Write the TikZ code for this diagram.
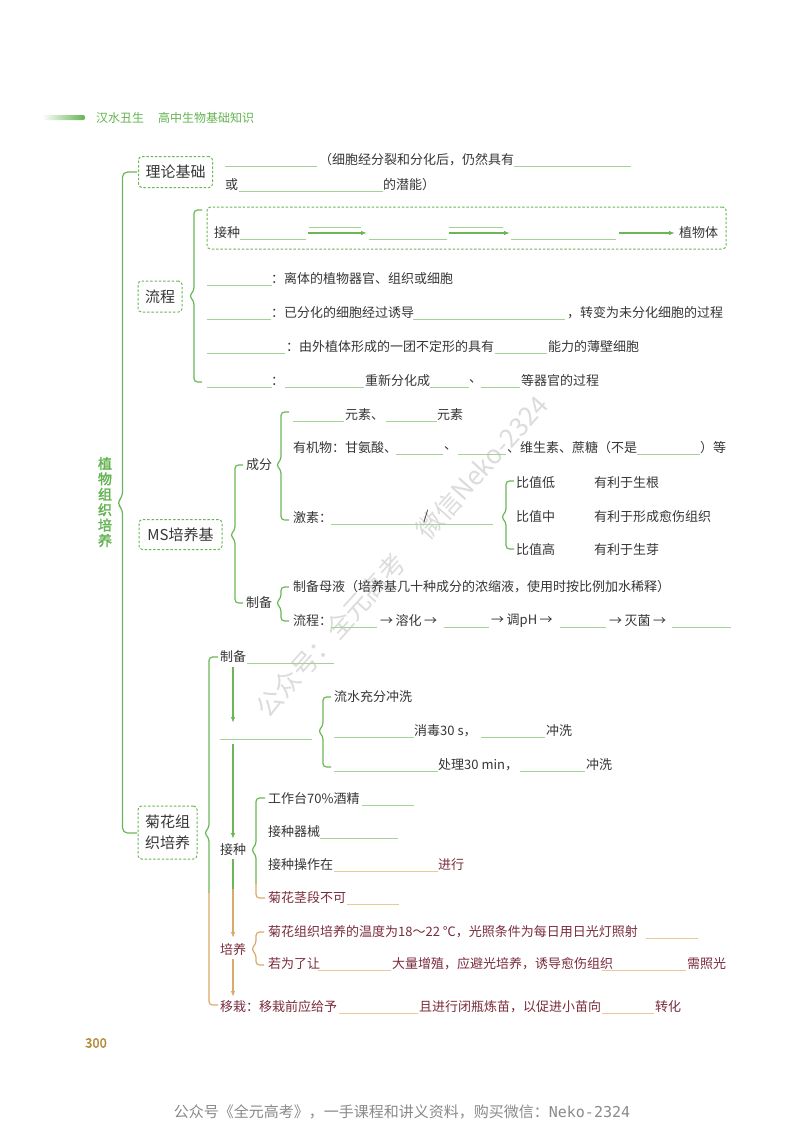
\documentclass[tikz,border=0pt]{standalone}
\usepackage{fontspec}
\setmainfont{Noto Sans CJK SC}
\newfontfamily\bfcjk[FakeBold=2]{Noto Sans CJK SC}
\newfontfamily\monof{DejaVu Sans Mono}
\usetikzlibrary{arrows.meta}
\definecolor{gmain}{HTML}{6BB758}
\definecolor{gblank}{HTML}{A3D394}
\definecolor{bmain}{HTML}{D9AA6A}
\definecolor{bblank}{HTML}{E8C99A}
\definecolor{txt}{HTML}{363636}
\definecolor{mar}{HTML}{7A2C3C}
\definecolor{hgreen}{HTML}{63B450}
\definecolor{gold}{HTML}{B38A36}
\definecolor{wmc}{HTML}{DCDCDC}
\definecolor{footgray}{HTML}{8A8A8A}
\tikzset{
  tx/.style={anchor=west,inner sep=0pt,text=txt,font=\fontsize{13}{15}\selectfont},
  txm/.style={tx,text=mar},
  gl/.style={draw=gmain,line width=1.2pt},
  bl/.style={draw=bmain,line width=1.2pt},
  arr/.style={gl,-{Latex[length=6pt,width=4.5pt]}},
  barr/.style={bl,-{Latex[length=6pt,width=4.5pt]}},
  gbl/.style={draw=gblank,line width=0.8pt},
  bbl/.style={draw=bblank,line width=0.8pt},
  boxshape/.style={draw=gmain,dash pattern=on 2.5pt off 1.8pt,rounded corners=3.5pt,line width=1pt},
  dbox/.style={boxshape,inner sep=0pt,text=txt,font=\fontsize{15}{21}\selectfont,align=center}
}
\newcommand\blank[4][gbl]{\draw[#1] (#2,{#4+6}) -- (#3,{#4+6});}
\newcommand\Brace[5][gl]{\draw[#1,rounded corners=3.5pt] ({#2+8},#3) -- (#2,#3) -- (#2,{#4-5}) -- ({#2-5},#4) -- (#2,{#4+5}) -- (#2,#5) -- ({#2+8},#5);}
\newcommand\arrgap{\hspace{2.5pt}}
\begin{document}
\begin{tikzpicture}[x=1pt,y=-1pt]
\path[use as bounding box,fill=white] (0,0) rectangle (800,1132);
% watermark
\node[text=wmc,rotate=48,font=\fontsize{26}{28}\selectfont] (wmk) at (402,556) {公众号：全元高考\hspace{1.2em}微信Neko-2324};
% header
\shade[left color=white,right color=hgreen,rounded corners=2pt] (42,115) rectangle (85,120);
\node[tx,text=hgreen,font=\fontsize{12}{14}\selectfont] (h1) at (96,118) {汉水丑生};
\node[tx,text=hgreen,font=\fontsize{12}{14}\selectfont] (h2) at (158,118) {高中生物基础知识};
% main brace + label
\draw[gl,rounded corners=5pt] (137,172) -- (122.5,172) -- (122.5,497) -- (116.5,503) -- (122.5,509) -- (122.5,833) -- (137,833);
\node[align=center,text=hgreen,font=\bfcjk\fontsize{14}{15.4}\selectfont,inner sep=0pt] (zwzz) at (105,502) {植\\物\\组\\织\\培\\养};
% ---------- 理论基础
\node[dbox,minimum width=74pt,minimum height=31pt] (lljc) at (175.5,172) {理论基础};
\blank{225}{317}{160}
\node[tx] (r1a) at (319,160) {（细胞经分裂和分化后，仍然具有};
\blank{514}{631}{160}
\node[tx] (r2a) at (225,185) {或};
\blank{239}{383}{185}
\node[tx] (r2b) at (383,185) {的潜能）};
% ---------- 流程
\node[dbox,minimum width=44pt,minimum height=31pt] (lc) at (160,296.5) {流程};
\Brace{194}{210}{296}{382}
\node[boxshape,minimum width=519pt,minimum height=42pt] (flowbox) at (466.5,228) {};
\node[tx] (jz0) at (214,233) {接种};
\blank{240}{306}{233}
\draw[gbl] (309,227) -- (361,227);
\draw[arr] (308,233) -- (367,233);
\blank{369}{447}{233}
\draw[gbl] (449,227) -- (503,227);
\draw[arr] (449,233) -- (510,233);
\blank{511}{616}{233}
\draw[arr] (619,233) -- (675,233);
\node[tx] (zwt) at (679,233) {植物体};
\blank{207}{272}{279}
\node[tx] (lcA) at (271,279) {：离体的植物器官、组织或细胞};
\blank{207}{271}{313}
\node[tx] (lcB1) at (271,313) {：已分化的细胞经过诱导};
\blank{413}{565}{313}
\node[tx] (lcB2) at (567,313) {，转变为未分化细胞的过程};
\blank{207}{285}{347}
\node[tx] (lcC1) at (286,347) {：由外植体形成的一团不定形的具有};
\blank{495}{547}{347}
\node[tx] (lcC2) at (548,347) {能力的薄壁细胞};
\blank{207}{272}{381}
\node[tx] (lcD0) at (271,381) {：};
\blank{285}{364}{381}
\node[tx] (lcD1) at (365,381) {重新分化成};
\blank{430}{469}{381}
\node[tx] (lcD2) at (469,381) {、};
\blank{481}{520}{381}
\node[tx] (lcD3) at (521,381) {等器官的过程};
% ---------- MS培养基
\node[dbox,minimum width=83pt,minimum height=30pt] (ms) at (180.5,534.5) {MS培养基};
\Brace{235}{465}{535}{603}
\node[tx] (cf) at (246,465) {成分};
\node[tx] (zb1) at (246,603) {制备};
\Brace{281}{412}{465}{520}
\blank{293}{344}{415}
\node[tx] (cfa) at (345,415) {元素、};
\blank{386}{437}{415}
\node[tx] (cfb) at (437,415) {元素};
\node[tx] (cfc) at (293,448) {有机物：甘氨酸、};
\blank{396}{443}{448}
\node[tx] (cfd) at (444,448) {、};
\blank{458}{506}{448}
\node[tx] (cfe) at (507,448) {、维生素、蔗糖（不是};
\blank{637}{700}{448}
\node[tx] (cff) at (700,448) {）等};
\node[tx] (jsu) at (293,518) {激素：};
\blank{331}{493}{518}
\node[tx,anchor=center] (slash) at (426,516) {/};
\Brace{506}{481}{517}{549}
\node[tx] (bd) at (516,483) {比值低};
\node[tx] (bdr) at (594,483) {有利于生根};
\node[tx] (bz) at (516,517) {比值中};
\node[tx] (bzr) at (594,517) {有利于形成愈伤组织};
\node[tx] (bg) at (516,550) {比值高};
\node[tx] (bgr) at (594,550) {有利于生芽};
\Brace{281}{587}{603}{621}
\node[tx] (mu) at (293,587) {制备母液（培养基几十种成分的浓缩液，使用时按比例加水稀释）};
\node[tx] (lc2) at (293,621) {流程：};
\blank{331}{377}{621}
\node[tx] (s1) at (380,621) {→\arrgap 溶化\arrgap →};
\blank{444}{489}{621}
\node[tx] (s2) at (491,621) {→\arrgap 调pH\arrgap →};
\blank{560}{606}{621}
\node[tx] (s3) at (609,621) {→\arrgap 灭菌\arrgap →};
\blank{672}{731}{621}
% ---------- 菊花组织培养
\node[dbox,minimum width=59pt,minimum height=53pt] (jh) at (167.5,832.5) {菊花组\\织培养};
\draw[gl,rounded corners=3.5pt] (218,657) -- (209,657) -- (209,828) -- (204,833) -- (209,838) -- (209,893);
\draw[bl,rounded corners=3.5pt] (209,892) -- (209,1005) -- (218,1005);
\node[tx] (zb2) at (220,657) {制备};
\blank{247}{334}{657}
\coordinate (hl1) at (220,739);
\coordinate (hl2) at (312,739);
\draw[arr] (233,667) -- (233,723);
\draw[gbl] (hl1) -- (hl2);
\draw[arr] (233,744) -- (233,839);
\Brace{323}{697}{731}{767}
\node[tx] (xd0) at (334,697) {流水充分冲洗};
\blank{334}{414}{731}
\node[tx] (xd1) at (414,731) {消毒30 s，};
\blank{481}{545}{731}
\node[tx] (xd2) at (546,731) {冲洗};
\blank{334}{438}{765}
\node[tx] (xd3) at (438,765) {处理30 min，};
\blank{520}{585}{765}
\node[tx] (xd4) at (586,765) {冲洗};
\node[tx] (jz) at (220,850) {接种};
\draw[gl,rounded corners=3.5pt] (265,798) -- (256,798) -- (256,845) -- (251,850) -- (256,855) -- (256,884);
\draw[bl,rounded corners=3.5pt] (256,883) -- (256,898) -- (265,898);
\node[tx] (j1) at (268,799) {工作台70\%酒精};
\blank{362}{414}{799}
\node[tx] (j2) at (268,832) {接种器械};
\blank{320}{398}{832}
\node[tx] (j3) at (268,865) {接种操作在};
\blank[bbl]{334}{438}{865}
\node[txm] (j3b) at (438,865) {进行};
\node[txm] (j4) at (268,898) {菊花茎段不可};
\blank[bbl]{347}{399}{898}
\draw[gl] (233,859) -- (233,890);
\draw[barr] (233,889) -- (233,938);
\node[txm] (py) at (220,950) {培养};
\Brace[bl]{256}{932}{949}{965}
\node[txm] (p1) at (268,932) {菊花组织培养的温度为18～22 ℃，光照条件为每日用日光灯照射};
\blank[bbl]{646}{698}{932}
\node[txm] (p2) at (268,964) {若为了让};
\blank[bbl]{318}{391}{964}
\node[txm] (p3) at (392,964) {大量增殖，应避光培养，诱导愈伤组织};
\blank[bbl]{602}{686}{964}
\node[txm] (p4) at (687,964) {需照光};
\draw[barr] (233,959) -- (233,997);
\node[txm] (yz) at (220,1007) {移栽：移栽前应给予};
\blank[bbl]{339}{418}{1007}
\node[txm] (yz2) at (419,1007) {且进行闭瓶炼苗，以促进小苗向};
\blank[bbl]{602}{654}{1007}
\node[txm] (yz3) at (655,1007) {转化};
% page number and footer
\node[text=gold,font=\bfcjk\fontsize{13}{15}\selectfont,inner sep=0pt] (pg) at (96,1043) {300};
\node[text=footgray,font=\fontsize{15}{17}\selectfont,inner sep=0pt] (foot) at (402,1112) {公众号《全元高考》，一手课程和讲义资料，购买微信：{\monof Neko-2324}};
\end{tikzpicture}
\end{document}
